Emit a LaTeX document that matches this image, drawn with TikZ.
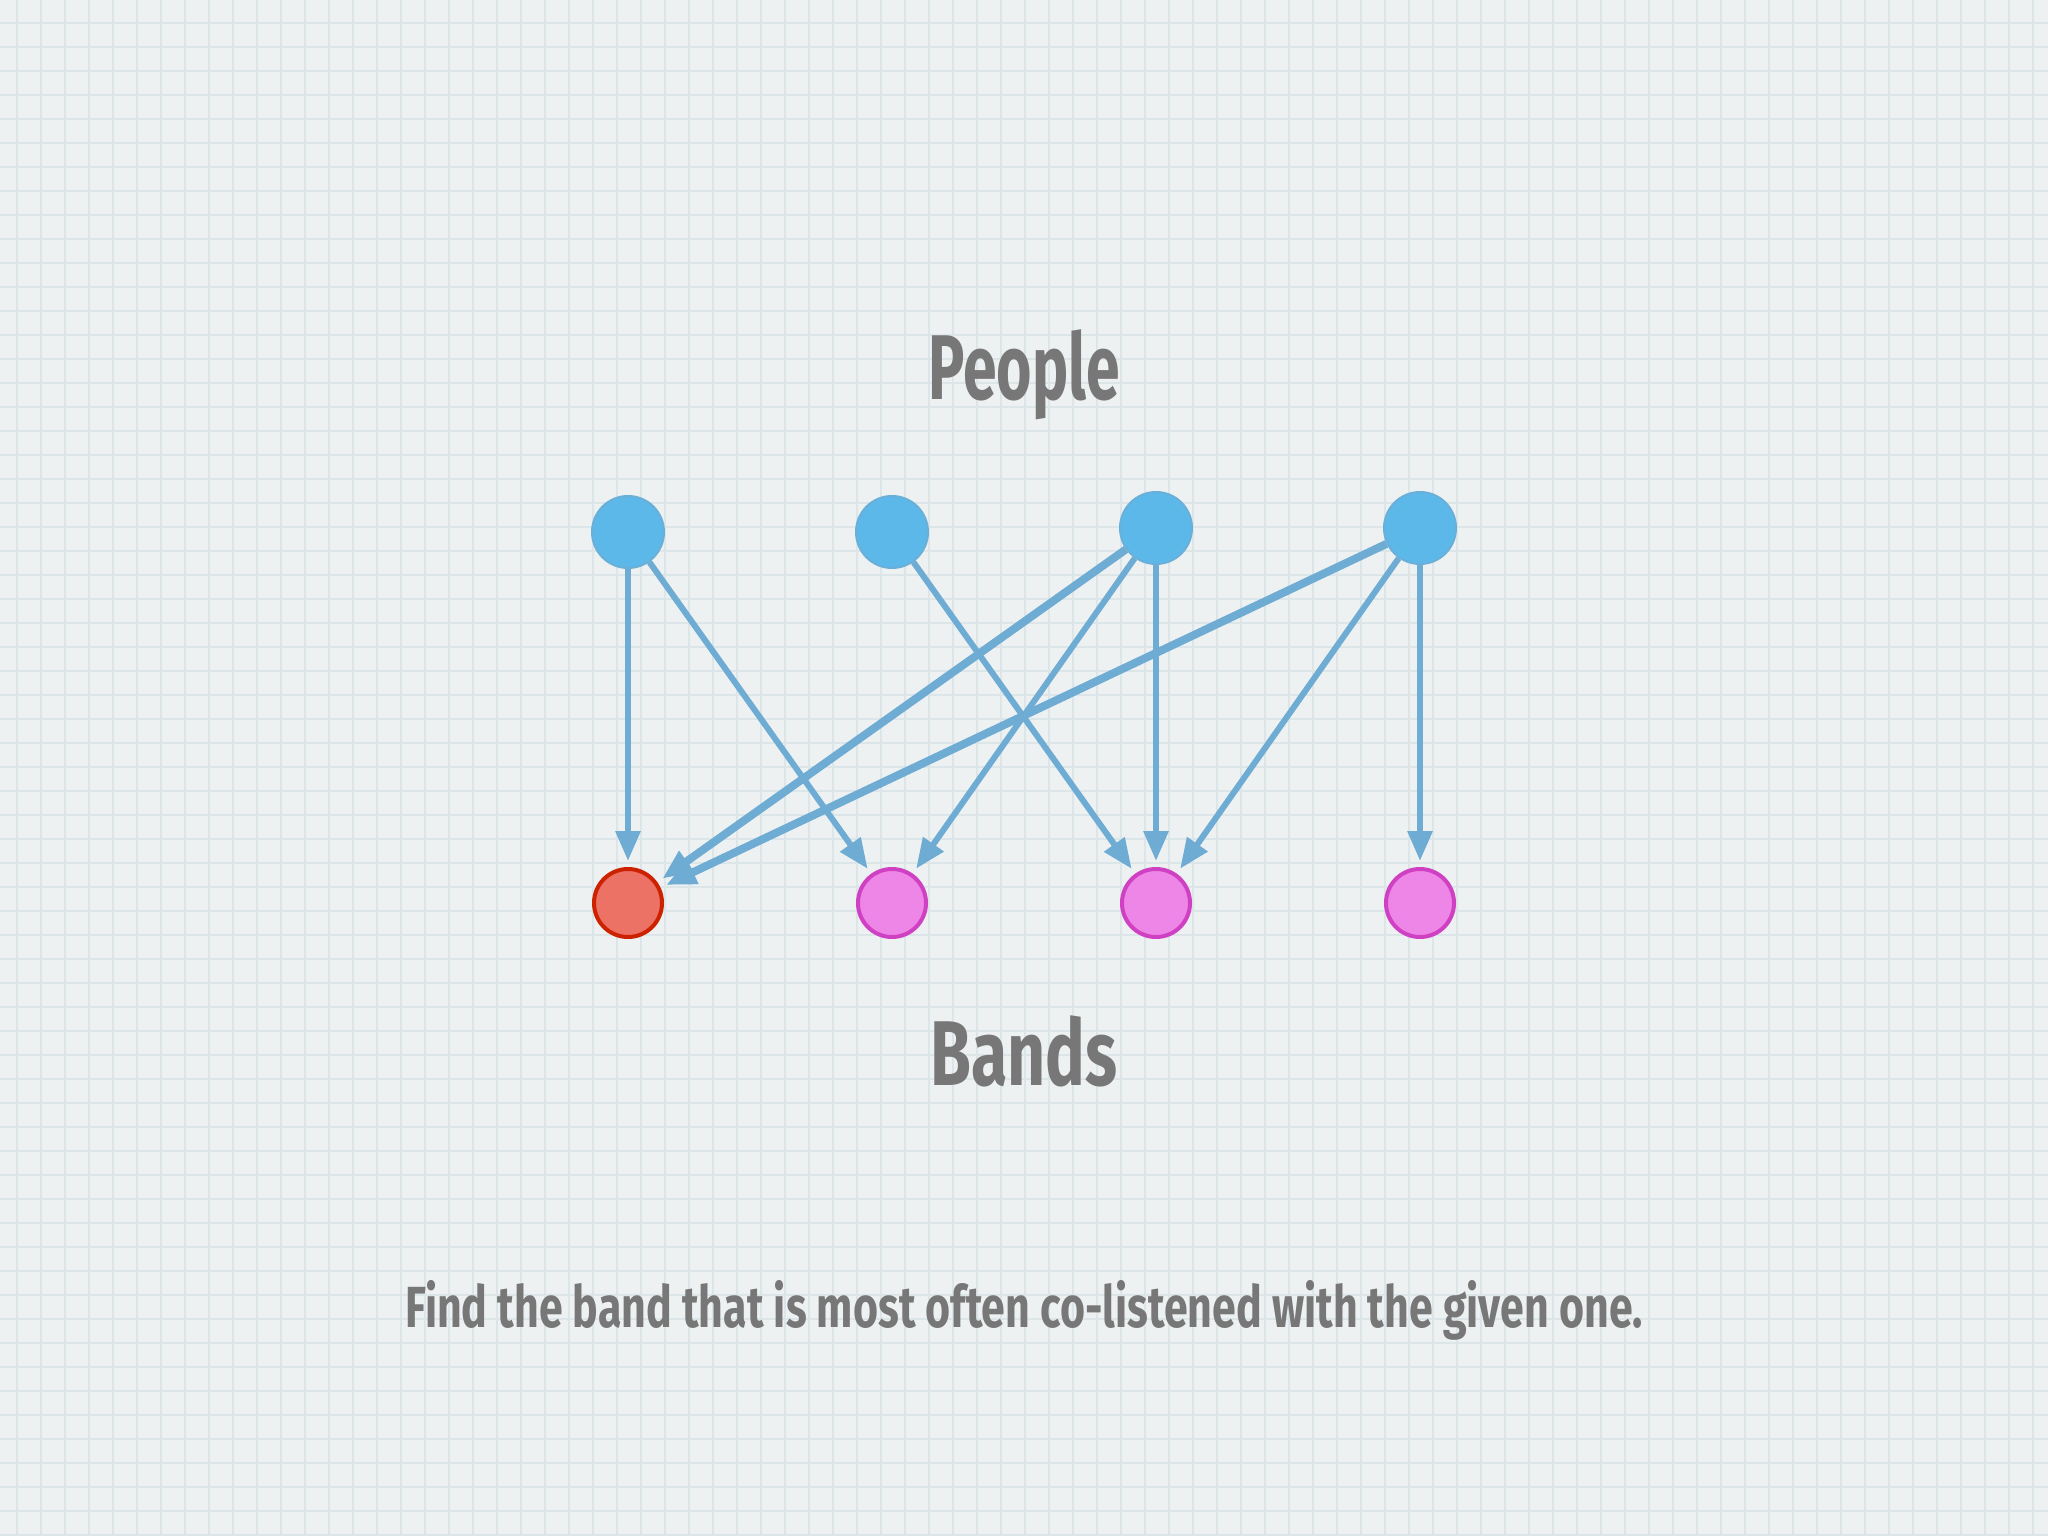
\documentclass[tikz,border=0pt]{standalone}
\usepackage{fontspec}
\usetikzlibrary{arrows.meta}
\newfontfamily\handfont[FakeStretch=0.66]{Fira Sans}
\newfontfamily\bandfont[FakeStretch=0.72]{Fira Sans}
\newfontfamily\capfont[FakeStretch=0.74]{Fira Sans}
\definecolor{bgc}{HTML}{EEF1F2}
\definecolor{gridc}{HTML}{DCE5E8}
\definecolor{txtc}{HTML}{777777}
\definecolor{edgec}{HTML}{6EACD4}
\definecolor{pfill}{HTML}{5DB8EA}
\definecolor{pdraw}{HTML}{6AAFD8}
\definecolor{bfill}{HTML}{EE86E8}
\definecolor{bdraw}{HTML}{CF40C2}
\definecolor{rfill}{HTML}{EC7266}
\definecolor{rdraw}{HTML}{CC2200}
\begin{document}
\begin{tikzpicture}[x=1pt,y=-1pt,
  person/.style={circle,minimum size=72pt,inner sep=0pt,fill=pfill,draw=pdraw,line width=2pt},
  band/.style={circle,minimum size=68pt,inner sep=0pt,fill=bfill,draw=bdraw,line width=4pt},
  given/.style={band,fill=rfill,draw=rdraw},
  link/.style={draw=edgec,line width=6pt,-{Triangle[length=30pt,width=24pt]},shorten >=6pt},
  thick link/.style={link,line width=8pt},
  title/.style={text=txtc,font=\handfont\bfseries\fontsize{92}{110}\selectfont},
  caption/.style={text=txtc,font=\capfont\bfseries\fontsize{58}{70}\selectfont}]
\useasboundingbox (0,0) rectangle (2048,1536);
\fill[bgc] (0,0) rectangle (2048,1536);
\foreach \i in {0,...,85} \draw[gridc,line width=1.6pt] ({17+24*\i},0) -- ({17+24*\i},1536);
\foreach \i in {0,...,64} \draw[gridc,line width=1.6pt] (0,{23+24*\i}) -- (2048,{23+24*\i});

\node[title] (people) at (1024,375) {People};
\node[title,font=\bandfont\bfseries\fontsize{92}{110}\selectfont] (bands) at (1024,1051) {Bands};
\node[caption] (cap) at (1024,1310) {Find the band that is most often co-listened with the given one.};

\node[person] (p1) at (628,532) {};
\node[person] (p2) at (892,532) {};
\node[person] (p3) at (1156,528) {};
\node[person] (p4) at (1420,528) {};

\node[given] (b1) at (628,903) {};
\node[band] (b2) at (892,903) {};
\node[band] (b3) at (1156,903) {};
\node[band] (b4) at (1420,903) {};

\draw[link] (p1) -- (b1);
\draw[link] (p1) -- (b2);
\draw[link] (p2) -- (b3);
\draw[thick link] (p3) -- (b1);
\draw[link] (p3) -- (b2);
\draw[link] (p3) -- (b3);
\draw[thick link] (p4) -- (b1);
\draw[link] (p4) -- (b3);
\draw[link] (p4) -- (b4);
\end{tikzpicture}
\end{document}
